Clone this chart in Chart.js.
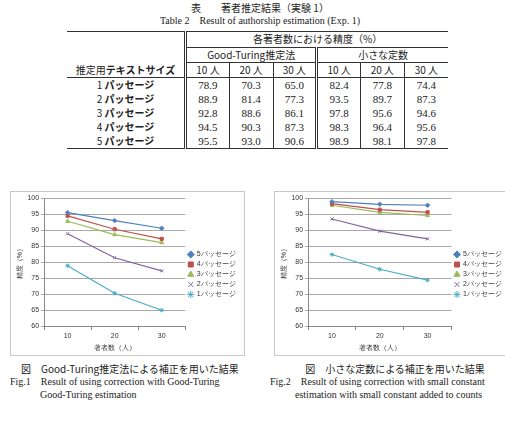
<!DOCTYPE html>
<html lang="ja">
<head>
<meta charset="UTF-8">
<title>著者推定結果（実験 1）</title>
<script src="https://cdn.jsdelivr.net/npm/chart.js"></script>
<style>
  body { margin: 0; width: 505px; height: 421px; overflow: hidden; background: #fff;
         font-family: "Noto Sans CJK JP", sans-serif; color: #222; position: relative; }
  .cap { position: absolute; white-space: nowrap; font-size: 10px; line-height: 12px; }
  .en { font-family: "Liberation Serif", serif; font-size: 10px; }
  #tbl { position: absolute; left: 67px; top: 31px; width: 381px; border-collapse: collapse;
         font-size: 10px; line-height: 12px; table-layout: fixed; }
  #tbl td { padding: 0; text-align: center; height: 14px; }
  #tbl .num { font-family: "Liberation Serif", serif; font-size: 11px; }
  .box { position: absolute; border: 1px solid #c8c8c8; background: #fff; }
</style>
</head>
<body>
<div class="cap" style="left:150px;top:2px;width:220px;text-align:center">表　　著者推定結果（実験 1）</div>
<div class="cap en" style="left:130px;top:15px;width:260px;text-align:center">Table 2　Result of authorship estimation (Exp. 1)</div>

<table id="tbl"></table>

<div class="box" style="left:10px;top:191px;width:233px;height:163px"><canvas id="chartGT"></canvas></div>
<div class="box" style="left:274px;top:191px;width:236px;height:163px"><canvas id="chartSC"></canvas></div>

<div class="cap" style="left:10px;top:363px;width:240px;text-align:center">図　Good-Turing推定法による補正を用いた結果</div>
<div class="cap en" style="left:10px;top:376px">Fig.1　Result of using correction with Good-Turing</div>
<div class="cap en" style="left:40px;top:389px">Good-Turing estimation</div>
<div class="cap" style="left:280px;top:363px;width:230px;text-align:center">図　小さな定数による補正を用いた結果</div>
<div class="cap en" style="left:270px;top:376px">Fig.2　Result of using correction with small constant</div>
<div class="cap en" style="left:295px;top:389px">estimation with small constant added to counts</div>

<script>
// number of authors (x axis / table columns)
const authorCounts = ["10", "20", "30"];
const passageNames = ["1パッセージ", "2パッセージ", "3パッセージ", "4パッセージ", "5パッセージ"];

// accuracy (%), Good-Turing correction
const gt1 = [78.9, 70.3, 65.0];
const gt2 = [88.9, 81.4, 77.3];
const gt3 = [92.8, 88.6, 86.1];
const gt4 = [94.5, 90.3, 87.3];
const gt5 = [95.5, 93.0, 90.6];

// accuracy (%), small constant correction
const sc1 = [82.4, 77.8, 74.4];
const sc2 = [93.5, 89.7, 87.3];
const sc3 = [97.8, 95.6, 94.6];
const sc4 = [98.3, 96.4, 95.6];
const sc5 = [98.9, 98.1, 97.8];

const yTicks = [60, 65, 70, 75, 80, 85, 90, 95, 100];

const colors = ["#4bacc6", "#8064a2", "#9bbb59", "#c0504d", "#4f81bd"];
const markers = ["star", "crossRot", "triangle", "rect", "rectRot"];

// table
const tbl = document.getElementById("tbl");
const gtRows = [gt1, gt2, gt3, gt4, gt5];
const scRows = [sc1, sc2, sc3, sc4, sc5];
let html = '<colgroup><col style="width:118px">' + '<col style="width:43.5px">'.repeat(6) + '</colgroup>';
html += '<tr style="border-top:1.5px solid #333"><td style="height:15px"></td>' +
        '<td colspan="6" style="border-left:3px double #333;border-bottom:1px solid #333">各著者数における精度（%）</td></tr>';
html += '<tr><td></td><td colspan="3" style="border-left:3px double #333;border-bottom:1px solid #333">Good-Turing推定法</td>' +
        '<td colspan="3" style="border-left:3px double #333;border-bottom:1px solid #333">小さな定数</td></tr>';
html += '<tr style="border-bottom:1px solid #333"><td style="height:15px">推定用<b>テキストサイズ</b></td>';
for (let g = 0; g < 2; g++) {
  authorCounts.forEach((a, i) => {
    const bl = i === 0 ? "3px double #333" : "1px solid #333";
    html += '<td style="border-left:' + bl + '">' + a + ' 人</td>';
  });
}
html += '</tr>';
for (let r = 0; r < 5; r++) {
  html += '<tr' + (r === 4 ? ' style="border-bottom:1px solid #333"' : '') + '><td>' +
          (r + 1) + ' <b>' + passageNames[r].slice(1) + '</b></td>';
  [gtRows[r], scRows[r]].forEach(vals => {
    vals.forEach((v, i) => {
      const bl = i === 0 ? "3px double #333" : "1px solid #333";
      html += '<td class="num" style="border-left:' + bl + '">' + v.toFixed(1) + '</td>';
    });
  });
  html += '</tr>';
}
tbl.innerHTML = html;

Chart.defaults.font.family = "Liberation Sans";
Chart.defaults.font.size = 7;
Chart.defaults.color = "#333";

function makeChart(id, rows) {
  const datasets = [];
  for (let i = 4; i >= 0; i--) {
    datasets.push({
      label: passageNames[i],
      data: rows[i],
      borderColor: colors[i],
      backgroundColor: colors[i],
      pointStyle: markers[i],
      pointRadius: 2.2,
      pointBorderWidth: 1,
      borderWidth: 1.2,
      tension: 0
    });
  }
  return new Chart(document.getElementById(id), {
    type: "line",
    data: { labels: authorCounts, datasets: datasets },
    options: {
      responsive: true,
      maintainAspectRatio: false,
      animation: false,
      layout: { padding: { left: 4, top: 4, right: 2, bottom: 2 } },
      plugins: {
        legend: {
          position: "right",
          labels: { usePointStyle: true, boxWidth: 5, boxHeight: 5, padding: 3, font: { size: 7 } }
        },
        tooltip: { enabled: false }
      },
      scales: {
        x: {
          offset: true,
          grid: { offset: true, drawOnChartArea: false, tickLength: 4, color: "#888" },
          border: { color: "#888" },
          ticks: { padding: 2 },
          title: { display: true, text: "著者数（人）", padding: 1, font: { size: 7 } }
        },
        y: {
          min: 60, max: 100,
          afterBuildTicks: axis => { axis.ticks = yTicks.map(v => ({ value: v })); },
          grid: { color: "#a8a8a8", tickLength: 3 },
          border: { color: "#888" },
          ticks: { padding: 2 },
          title: { display: true, text: "精度（%）", padding: 1, font: { size: 7 } }
        }
      }
    }
  });
}

makeChart("chartGT", gtRows);
makeChart("chartSC", scRows);
</script>
</body>
</html>
